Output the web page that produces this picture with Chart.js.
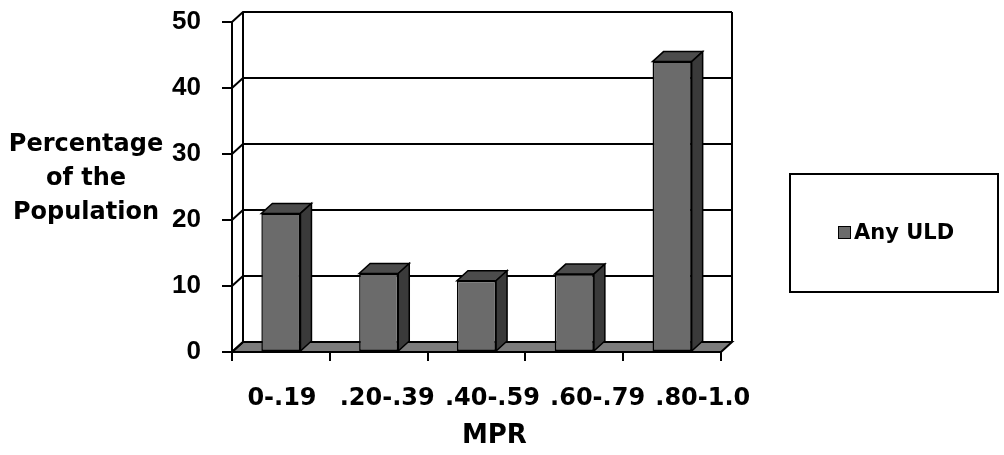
<!DOCTYPE html>
<html>
<head>
<meta charset="utf-8">
<script src="https://cdn.jsdelivr.net/npm/chart.js@4.4.1/dist/chart.umd.min.js"></script>
<style>
  html, body { margin: 0; padding: 0; background: #fff; }
  #wrap { width: 1004px; height: 455px; }
</style>
</head>
<body>
<div id="wrap"><canvas id="mprChart" width="1004" height="455"></canvas></div>
<script>
const categories = ['0-.19', '.20-.39', '.40-.59', '.60-.79', '.80-1.0'];
const anyUld = [21, 11.9, 10.8, 11.8, 44];
const yTicks = [0, 10, 20, 30, 40, 50];
const seriesName = 'Any ULD';
const yTitleLines = ['Percentage', 'of the', 'Population'];
const xTitle = 'MPR';

// depth of the fake 3d box
const DX = 11, DY = 10;
const FRONT = '#6b6b6b', TOP = '#4c4c4c', SIDE = '#3a3a3a', FLOOR = '#7b7b7b';

function poly(ctx, pts, fill) {
    ctx.beginPath();
    ctx.moveTo(pts[0][0], pts[0][1]);
    for (let i = 1; i < pts.length; i++) ctx.lineTo(pts[i][0], pts[i][1]);
    ctx.closePath();
    if (fill) { ctx.fillStyle = fill; ctx.fill(); }
    ctx.stroke();
}

const box3d = {
    id: 'box3d',
    beforeDatasetsDraw(chart) {
        const {ctx, chartArea: a, scales: {y}} = chart;
        const L = Math.round(a.left), R = Math.round(a.right), B = Math.round(a.bottom), T = Math.round(a.top);
        ctx.save();
        ctx.strokeStyle = '#000';
        ctx.lineWidth = 2;
        // floor
        poly(ctx, [[L, B], [R, B], [R + DX, B - DY], [L + DX, B - DY]], FLOOR);
        // back wall grid + side wall diagonals
        yTicks.forEach(v => {
            const py = Math.round(y.getPixelForValue(v));
            ctx.beginPath();
            ctx.moveTo(L, py);
            ctx.lineTo(L + DX, py - DY);
            ctx.lineTo(R + DX, py - DY);
            ctx.stroke();
        });
        ctx.beginPath();
        ctx.moveTo(L + DX, T - DY);
        ctx.lineTo(L + DX, B - DY);
        ctx.moveTo(R + DX, T - DY);
        ctx.lineTo(R + DX, B - DY);
        ctx.stroke();
        ctx.restore();
    },
    afterDatasetsDraw(chart) {
        const ctx = chart.ctx;
        ctx.save();
        ctx.strokeStyle = '#000';
        ctx.lineWidth = 1.5;
        chart.getDatasetMeta(0).data.forEach(bar => {
            const {x, y, base, width} = bar.getProps(['x', 'y', 'base', 'width'], true);
            const l = x - width / 2, r = x + width / 2;
            poly(ctx, [[l, y], [r, y], [r + DX, y - DY], [l + DX, y - DY]], TOP);
            poly(ctx, [[r, y], [r + DX, y - DY], [r + DX, base - DY], [r, base]], SIDE);
        });
        ctx.restore();
    },
    afterDraw(chart) {
        const {ctx, scales: {xl}} = chart;
        ctx.save();
        ctx.fillStyle = '#000';
        ctx.textAlign = 'center';
        ctx.textBaseline = 'middle';
        // y title, horizontal, 3 lines
        ctx.font = 'bold 24px "DejaVu Sans"';
        yTitleLines.forEach((t, i) => ctx.fillText(t, 86, 145 + i * 34));
        // x title under the middle label
        ctx.font = 'bold 26px "DejaVu Sans"';
        ctx.fillText(xTitle, xl.getPixelForValue((categories.length - 1) / 2) + 2, 436);
        // legend box
        const ds = chart.data.datasets[0];
        ctx.strokeStyle = '#000';
        ctx.lineWidth = 2;
        ctx.strokeRect(790, 174, 208, 118);
        ctx.fillStyle = ds.backgroundColor;
        ctx.lineWidth = 1;
        ctx.fillRect(838.5, 226.5, 12, 12);
        ctx.strokeRect(838.5, 226.5, 12, 12);
        ctx.fillStyle = '#000';
        ctx.textAlign = 'left';
        ctx.font = 'bold 21px "DejaVu Sans"';
        ctx.fillText(ds.label, 854, 234);
        ctx.restore();
    }
};

const mprData = {
    labels: categories,
    datasets: [{
        label: seriesName,
        data: anyUld,
        backgroundColor: FRONT,
        borderColor: '#000',
        borderWidth: 1.5,
        borderSkipped: false,
        barPercentage: 0.8,
        categoryPercentage: 0.5
    }]
};

const mprConfig = {
    type: 'bar',
    data: mprData,
    options: {
        responsive: false,
        animation: false,
        layout: {
            padding: {top: 22, right: 283, left: 0, bottom: 0}
        },
        scales: {
            x: {
                type: 'category',
                position: 'bottom',
                weight: 0,
                offset: true,
                grid: {
                    display: true,
                    offset: true,
                    drawOnChartArea: false,
                    drawTicks: true,
                    tickLength: 9,
                    color: '#000',
                    lineWidth: 2
                },
                border: {display: true, color: '#000', width: 2},
                ticks: {display: false},
                afterFit: function(scale) { scale.height = 10; }
            },
            // label row (the picture spreads its labels a bit wider than the bars)
            xl: {
                type: 'linear',
                position: 'bottom',
                weight: 1,
                bounds: 'data',
                offset: false,
                min: -0.475,
                max: 4.173,
                grid: {display: false},
                border: {display: false},
                afterBuildTicks: function(axis) {
                    axis.ticks = categories.map((c, i) => ({value: i}));
                },
                ticks: {
                    autoSkip: false,
                    maxRotation: 0,
                    padding: 14,
                    color: '#000',
                    font: {family: 'DejaVu Sans', weight: 'bold', size: 24},
                    callback: function(value) {
                        return categories[value];
                    }
                },
                afterFit: function(scale) { scale.height = 93; }
            },
            y: {
                min: 0,
                max: 50,
                afterBuildTicks: function(axis) {
                    axis.ticks = yTicks.map(v => ({value: v}));
                },
                grid: {
                    display: true,
                    drawOnChartArea: false,
                    drawTicks: true,
                    tickLength: 10,
                    color: '#000',
                    lineWidth: 2
                },
                border: {display: true, color: '#000', width: 2},
                ticks: {
                    padding: 21,
                    color: '#000',
                    font: {family: 'Liberation Sans', weight: 'bold', size: 26}
                },
                afterFit: function(scale) {
                    scale.width = 232;
                    scale.paddingTop = 0;
                    scale.paddingBottom = 0;
                }
            }
        },
        plugins: {
            legend: {display: false},
            tooltip: {enabled: false}
        }
    },
    plugins: [box3d]
};

const mprChart = new Chart(
    document.getElementById('mprChart'),
    mprConfig
);
</script>
</body>
</html>
